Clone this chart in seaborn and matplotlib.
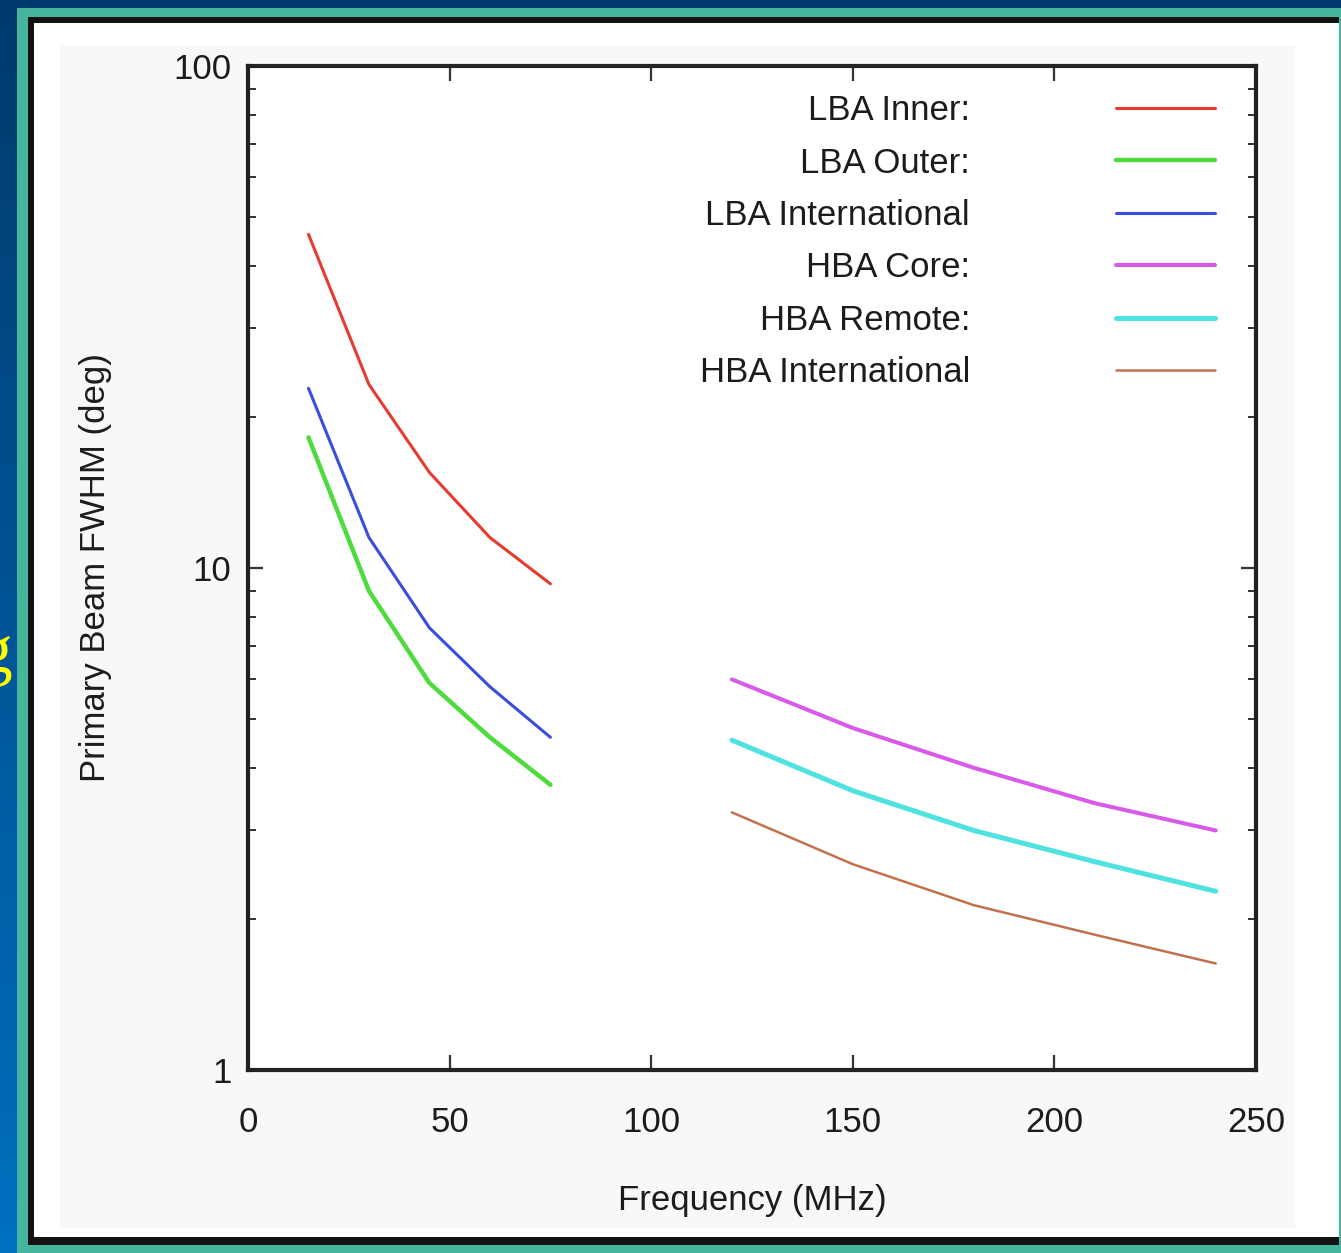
import numpy as np
import pandas as pd
import matplotlib
matplotlib.use("Agg")
import matplotlib.pyplot as plt
import seaborn as sns
from matplotlib.patches import Rectangle
from matplotlib.ticker import LogLocator, NullFormatter

# frequencies (MHz) sampled for each band
lba_freq = [15, 30, 45, 60, 75]
hba_freq = [120, 150, 180, 210, 240]

# primary beam FWHM (deg)
lba_inner = [46.2, 23.2, 15.5, 11.5, 9.3]
lba_outer = [18.2, 9.0, 5.9, 4.6, 3.7]
lba_intl = [22.8, 11.5, 7.6, 5.8, 4.6]
hba_core = [6.0, 4.8, 4.0, 3.4, 3.0]
hba_remote = [4.54, 3.6, 3.0, 2.6, 2.27]
hba_intl = [3.26, 2.57, 2.13, 1.86, 1.63]

labels = ["LBA Inner:", "LBA Outer:", "LBA International",
          "HBA Core:", "HBA Remote:", "HBA International"]
colors = ["#e63b30", "#4ddc3c", "#3a4ede", "#d85ae8", "#4fe2e0", "#c0724e"]
widths = [2.2, 3.2, 2.2, 2.9, 3.6, 1.8]

x_ticks = [0, 50, 100, 150, 200, 250]
y_ticks = [1, 10, 100]

series = [lba_inner, lba_outer, lba_intl, hba_core, hba_remote, hba_intl]
freqs = [lba_freq, lba_freq, lba_freq, hba_freq, hba_freq, hba_freq]

rows = []
for name, f, v in zip(labels, freqs, series):
    for fi, vi in zip(f, v):
        rows.append({"series": name, "freq": fi, "fwhm": vi})
df = pd.DataFrame(rows)

sns.set_theme(style="white")
plt.rcParams["font.family"] = ["Liberation Sans", "DejaVu Sans"]

W, H = 1341, 1253
fig = plt.figure(figsize=(W / 100, H / 100), dpi=100)

# slide background, frame and white panel (pixel coordinates)
bg = fig.add_axes([0, 0, 1, 1], zorder=-10)
grad = np.linspace(0, 1, 256).reshape(-1, 1)
cmap = matplotlib.colors.LinearSegmentedColormap.from_list("slide", ["#003a6c", "#0070c0"])
bg.imshow(grad, aspect="auto", cmap=cmap, extent=[0, W, H, 0])
bg.set_xlim(0, W)
bg.set_ylim(H, 0)
bg.axis("off")
bg.add_patch(Rectangle((17, 8), W, H, color="#45b59e", lw=0))
bg.add_patch(Rectangle((28, 17), 1311, 1228, color="#121212", lw=0))
bg.add_patch(Rectangle((34, 23), 1305, 1214, color="white", lw=0))
bg.add_patch(Rectangle((60, 45), 1235, 1183, color="#f8f8f8", lw=0))
bg.text(13, 672, "g", ha="right", va="baseline", fontsize=50,
        family="Liberation Serif", color="#ffff00")

ax = fig.add_axes([248 / W, 1 - 1070 / H, 1008 / W, 1004 / H])
ax.set_facecolor("white")

for name, c, lw in zip(labels, colors, widths):
    sns.lineplot(data=df[df["series"] == name], x="freq", y="fwhm",
                 color=c, linewidth=lw, ax=ax, label=name)

ax.set_yscale("log")
ax.set_xlim(0, 250)
ax.set_ylim(1, 100)
ax.set_xticks(x_ticks)
ax.set_xticklabels([str(t) for t in x_ticks])
ax.set_yticks(y_ticks)
ax.set_yticklabels([str(t) for t in y_ticks])
ax.yaxis.set_minor_locator(LogLocator(base=10, subs=range(2, 10)))
ax.yaxis.set_minor_formatter(NullFormatter())

ax.tick_params(which="major", direction="in", length=11, width=1.6, color="#333333",
               top=True, bottom=True, left=True, right=True, labelsize=25,
               labelcolor="#1c1c1c")
ax.tick_params(axis="x", which="major", pad=26)
ax.tick_params(axis="y", which="major", pad=12)
ax.tick_params(which="minor", direction="in", length=6, width=1.4, color="#333333",
               left=True, right=True)

for side in ["left", "right", "top", "bottom"]:
    ax.spines[side].set_visible(True)
    ax.spines[side].set_color("#222222")
    ax.spines[side].set_linewidth(3)

ax.set_xlabel("Frequency (MHz)", fontsize=25, color="#1c1c1c", labelpad=32)
ax.set_ylabel("Primary Beam FWHM (deg)", fontsize=25, color="#1c1c1c", labelpad=44)

handles, _ = ax.get_legend_handles_labels()
ax.legend(handles, labels, loc="upper right", bbox_to_anchor=(0.959, 0.972),
          markerfirst=False, frameon=False, fontsize=25, handlelength=2.85,
          handletextpad=4.2, labelspacing=0.56, borderpad=0, borderaxespad=0,
          labelcolor="#1c1c1c")

fig.savefig("out.png", dpi=100)
